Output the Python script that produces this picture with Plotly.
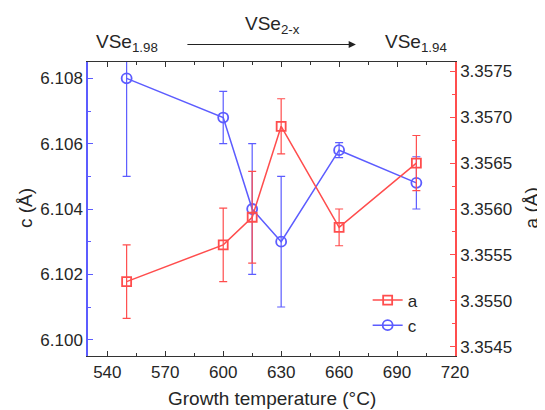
import plotly.graph_objects as go

temps = [550, 600, 615, 630, 660, 700]
c_vals = [6.1080, 6.1068, 6.1040, 6.1030, 6.1058, 6.1048]
c_err = [0.003, 0.0008, 0.002, 0.002, 0.00023, 0.0008]
a_vals = [3.35521, 3.35561, 3.35591, 3.35690, 3.35580, 3.35650]
a_err = [0.0004, 0.0004, 0.0005, 0.0003, 0.0002, 0.0003]

x_ticks = [540, 570, 600, 630, 660, 690, 720]
c_ticks = [6.100, 6.102, 6.104, 6.106, 6.108]
a_ticks = [3.3545, 3.3550, 3.3555, 3.3560, 3.3565, 3.3570, 3.3575]

RED = "#ff4d4d"
BLUE = "#5c5cff"
FONT = "Liberation Sans, Arial, sans-serif"
TXT = "#262626"

fig = go.Figure()
fig.add_trace(go.Scatter(
    x=temps, y=c_vals, name="c", yaxis="y", legendgroup="c", legendrank=2,
    mode="lines+markers",
    line=dict(color=BLUE, width=1.5),
    marker=dict(symbol="circle-open", size=10, color=BLUE, line=dict(width=1.8, color=BLUE)),
    error_y=dict(type="data", array=c_err, color=BLUE, thickness=1.2, width=4),
))
fig.add_trace(go.Scatter(
    x=temps, y=a_vals, name="a", yaxis="y2", legendgroup="a", legendrank=1,
    mode="lines+markers",
    line=dict(color=RED, width=1.5),
    marker=dict(symbol="square-open", size=9, color=RED, line=dict(width=1.8, color=RED)),
    error_y=dict(type="data", array=a_err, color=RED, thickness=1.2, width=4),
))

# page body has an 8px margin, so the figure is sized to fill the rest of the window
fig.update_layout(
    width=537, height=402,
    margin=dict(l=80, r=90, t=54, b=54),
    paper_bgcolor="white", plot_bgcolor="white",
    font=dict(family=FONT, size=17, color=TXT),
    showlegend=True,
    legend=dict(x=0.762, y=0.25, xanchor="left", yanchor="top",
                bgcolor="rgba(0,0,0,0)", font=dict(size=17, color=TXT),
                tracegroupgap=0, traceorder="grouped"),
    xaxis=dict(
        range=[530, 720], tickvals=x_ticks, ticks="inside", ticklen=5, tickwidth=1,
        tickcolor="#333", showline=True, linecolor="#333", linewidth=1.2,
        mirror="ticks", showgrid=False, zeroline=False,
        minor=dict(ticks="inside", ticklen=3, dtick=15, tick0=540, tickcolor="#333", showgrid=False),
        tickfont=dict(size=17, color=TXT),
    ),
    yaxis=dict(
        range=[6.0995, 6.1085], tickvals=c_ticks, tickformat=".3f",
        ticks="inside", ticklen=5, tickwidth=1, tickcolor=BLUE,
        showline=True, linecolor=BLUE, linewidth=1.5, showgrid=False, zeroline=False,
        minor=dict(ticks="inside", ticklen=3, dtick=0.001, tick0=6.100, tickcolor=BLUE, showgrid=False),
        tickfont=dict(size=17, color=TXT),
    ),
    yaxis2=dict(
        range=[3.3544, 3.3576], tickvals=a_ticks, tickformat=".4f",
        overlaying="y", side="right", anchor="x",
        ticks="inside", ticklen=5, tickwidth=1, tickcolor=RED,
        showline=True, linecolor=RED, linewidth=1.5, showgrid=False, zeroline=False,
        minor=dict(ticks="inside", ticklen=3, dtick=0.00025, tick0=3.3545, tickcolor=RED, showgrid=False),
        tickfont=dict(size=17, color=TXT),
    ),
)

ann = [
    dict(text="Growth temperature (°C)", x=0.5, y=-0.145, font=dict(size=19)),
    dict(text="c (Å)", x=-0.172, y=0.503, textangle=-90, font=dict(size=19)),
    dict(text="a (Å)", x=1.208, y=0.503, textangle=-90, font=dict(size=19)),
    dict(text="VSe<sub>1.98</sub>", x=0.105, y=1.065, font=dict(size=19)),
    dict(text="VSe<sub>2-x</sub>", x=0.504, y=1.125, font=dict(size=19)),
    dict(text="VSe<sub>1.94</sub>", x=0.894, y=1.065, font=dict(size=19)),
]
for a in ann:
    fig.add_annotation(xref="paper", yref="paper", showarrow=False,
                       xanchor="center", yanchor="middle", **a)

fig.add_annotation(xref="paper", yref="paper", x=0.730, y=1.0595, text="",
                   showarrow=True, ax=-170, ay=0, arrowhead=2, arrowsize=1.2,
                   arrowwidth=1.2, arrowcolor="#222")

fig.write_html("out.html")
